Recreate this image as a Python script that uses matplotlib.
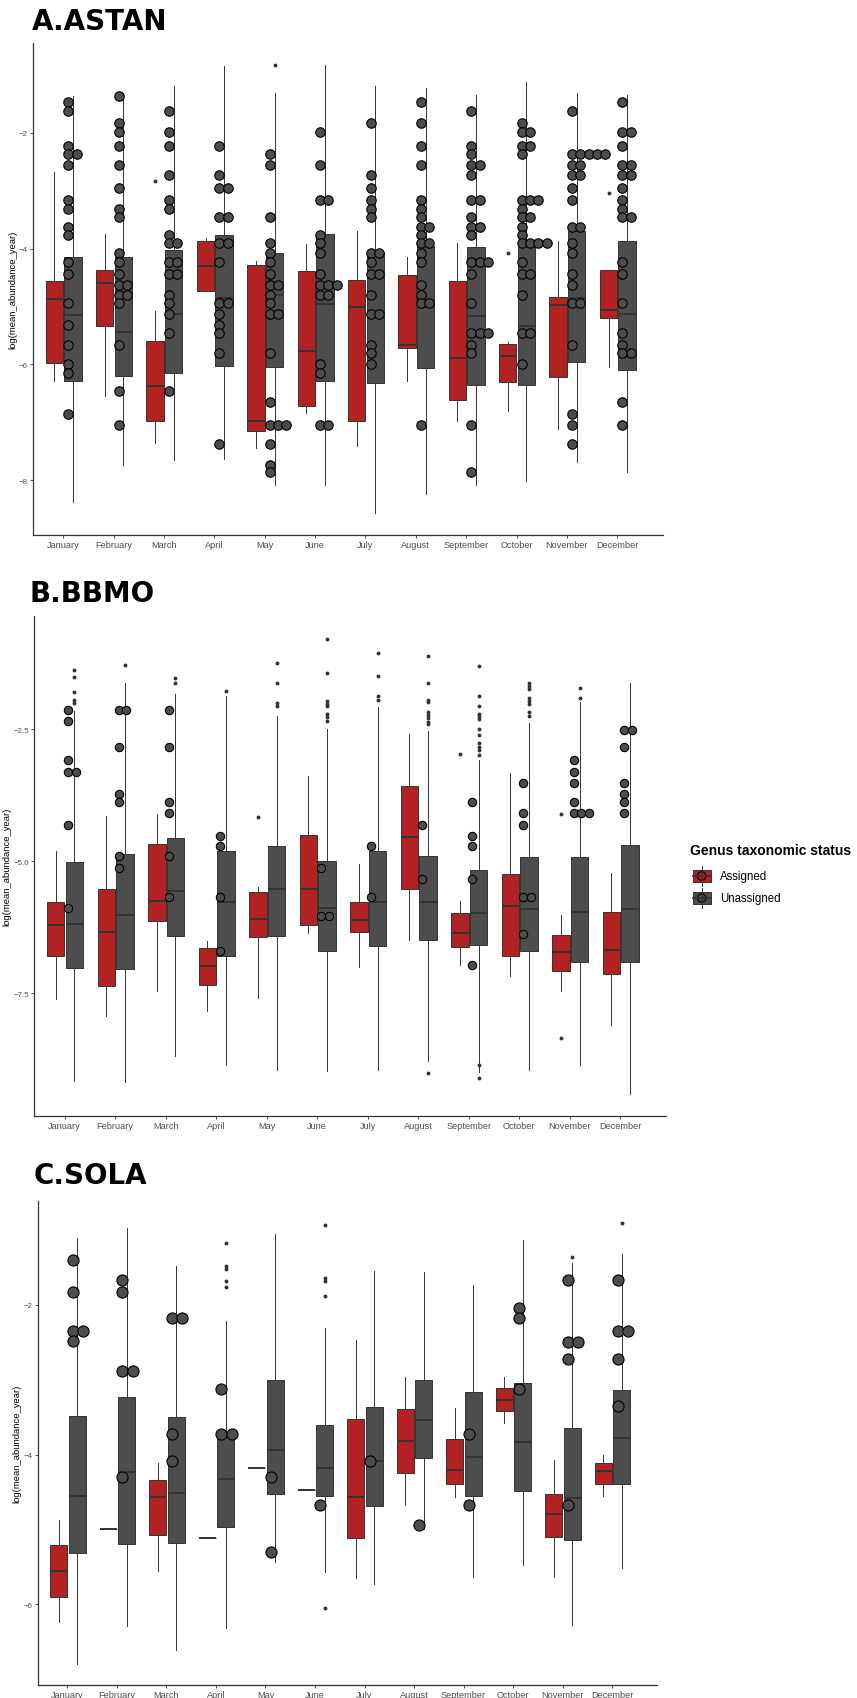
import numpy as np
import matplotlib
matplotlib.use("Agg")
import matplotlib.pyplot as plt
from matplotlib.patches import Rectangle, Circle
from collections import Counter

months = ["January", "February", "March", "April", "May", "June", "July",
          "August", "September", "October", "November", "December"]

RED = "#B22222"
GREY = "#4D4D4D"
LINE = "#333333"

# --- A. ASTAN : (whislo, q1, median, q3, whishi) per month
astan_assigned = [(-6.29, -5.98, -4.87, -4.56, -2.67), (-6.54, -5.33, -4.60, -4.36, -3.75),
                  (-7.35, -6.97, -6.38, -5.59, -5.07), (-4.73, -4.73, -4.30, -3.86, -3.82),
                  (-7.45, -7.15, -6.97, -4.28, -4.21), (-6.83, -6.72, -5.77, -4.38, -3.92),
                  (-7.41, -6.97, -5.01, -4.54, -3.69), (-6.29, -5.71, -5.66, -4.46, -4.15),
                  (-6.97, -6.62, -5.88, -4.56, -3.91), (-6.81, -6.31, -5.85, -5.65, -5.61),
                  (-7.12, -6.22, -4.98, -4.83, -3.87), (-6.05, -5.20, -5.06, -4.36, -4.36)]
astan_unassigned = [(-8.37, -6.28, -5.14, -4.14, -1.36), (-7.74, -6.20, -5.44, -4.14, -1.31),
                    (-7.65, -6.15, -5.12, -4.03, -1.19), (-7.63, -6.02, -4.85, -3.76, -0.85),
                    (-8.08, -6.05, -4.80, -4.08, -1.31), (-8.08, -6.28, -4.95, -3.75, -0.83),
                    (-8.57, -6.32, -5.12, -4.06, -1.19), (-8.24, -6.06, -5.01, -3.95, -1.23),
                    (-8.09, -6.35, -5.17, -3.97, -1.35), (-8.02, -6.36, -5.33, -3.97, -1.12),
                    (-7.69, -5.96, -4.86, -3.70, -1.31), (-7.85, -6.10, -5.12, -3.87, -1.35)]
astan_assigned_out = {3: [-2.83], 10: [-4.07], 12: [-3.04]}
astan_unassigned_out = {5: [-0.83]}
astan_dots = [
    [-1.46, -1.62, -2.22, -2.36, -2.36, -2.56, -3.16, -3.32, -3.62, -3.77, -4.23, -4.43, -4.94, -5.31, -5.67, -5.99, -6.14, -6.85],
    [-1.36, -1.83, -1.98, -2.22, -2.56, -2.96, -3.32, -3.45, -4.08, -4.23, -4.43, -4.62, -4.62, -4.80, -4.80, -4.94, -5.67, -6.45, -7.04],
    [-1.62, -1.98, -2.22, -2.72, -3.16, -3.32, -3.77, -3.91, -3.91, -4.23, -4.23, -4.43, -4.43, -4.80, -4.94, -5.12, -5.46, -6.45],
    [-2.22, -2.72, -2.96, -2.96, -3.45, -3.45, -3.91, -3.91, -4.23, -4.94, -4.94, -5.12, -5.31, -5.46, -5.81, -7.37],
    [-2.36, -2.56, -3.45, -3.91, -4.08, -4.23, -4.43, -4.62, -4.62, -4.80, -4.94, -5.12, -5.12, -5.81, -6.65, -7.04, -7.04, -7.04, -7.37, -7.74, -7.85],
    [-1.99, -2.56, -3.16, -3.16, -3.77, -3.91, -4.08, -4.43, -4.62, -4.62, -4.62, -4.80, -4.80, -5.99, -6.14, -7.04, -7.04],
    [-1.83, -2.72, -2.96, -3.16, -3.32, -3.45, -4.08, -4.08, -4.23, -4.43, -4.43, -4.80, -5.12, -5.12, -5.67, -5.81, -5.99],
    [-1.46, -1.83, -2.22, -2.56, -3.16, -3.32, -3.45, -3.62, -3.62, -3.77, -3.91, -3.91, -4.08, -4.23, -4.62, -4.80, -4.94, -4.94, -7.04],
    [-1.62, -2.22, -2.36, -2.56, -2.56, -2.72, -3.16, -3.16, -3.45, -3.62, -3.62, -3.77, -4.23, -4.23, -4.23, -4.43, -4.94, -5.46, -5.46, -5.46, -5.67, -5.81, -7.04, -7.85],
    [-1.83, -1.99, -1.99, -2.22, -2.22, -2.36, -3.16, -3.16, -3.16, -3.32, -3.45, -3.45, -3.62, -3.77, -3.91, -3.91, -3.91, -3.91, -4.23, -4.43, -4.43, -4.80, -5.46, -5.46, -5.99],
    [-1.62, -2.36, -2.36, -2.36, -2.36, -2.36, -2.56, -2.56, -2.72, -2.72, -2.96, -3.16, -3.62, -3.62, -3.91, -4.08, -4.43, -4.62, -4.94, -4.94, -5.67, -6.85, -7.04, -7.37],
    [-1.46, -1.99, -1.99, -2.22, -2.56, -2.56, -2.72, -2.72, -2.96, -3.16, -3.32, -3.45, -3.45, -4.23, -4.43, -4.94, -5.46, -5.67, -5.81, -5.81, -6.65, -7.04],
]

# --- B. BBMO
bbmo_assigned = [(-7.61, -6.80, -6.22, -5.77, -4.80), (-7.93, -7.36, -6.34, -5.52, -4.14),
                 (-7.46, -6.13, -5.75, -4.68, -4.11), (-7.83, -7.34, -6.99, -6.64, -6.51),
                 (-7.59, -6.43, -6.10, -5.58, -5.49), (-6.36, -6.22, -5.52, -4.50, -3.38),
                 (-7.00, -6.34, -6.11, -5.78, -5.06), (-6.50, -5.53, -4.55, -3.57, -2.59),
                 (-6.96, -6.63, -6.37, -5.99, -5.75), (-7.18, -6.80, -5.85, -5.25, -3.34),
                 (-7.46, -7.09, -6.73, -6.40, -6.03), (-8.10, -7.14, -6.68, -5.97, -5.22)]
bbmo_unassigned = [(-9.17, -7.02, -6.19, -5.01, -2.15), (-9.18, -7.05, -6.02, -4.86, -1.63),
                   (-8.69, -6.41, -5.57, -4.56, -1.84), (-8.86, -6.80, -5.77, -4.80, -1.88),
                   (-8.96, -6.42, -5.53, -4.71, -2.26), (-8.98, -6.70, -5.89, -4.99, -2.49),
                   (-8.96, -6.61, -5.78, -4.80, -2.09), (-8.79, -6.50, -5.78, -4.90, -2.53),
                   (-9.00, -6.59, -5.98, -5.16, -3.09), (-8.95, -6.70, -5.91, -4.93, -2.39),
                   (-8.86, -6.91, -5.97, -4.93, -1.99), (-9.42, -6.92, -5.90, -4.70, -1.63)]
bbmo_assigned_out = {5: [-4.16], 9: [-2.98], 11: [-4.11, -8.35]}
bbmo_unassigned_out = {
    1: [-1.38, -1.52, -1.80, -1.95, -2.00],
    2: [-1.29],
    3: [-1.54, -1.63],
    4: [-1.78],
    5: [-1.24, -1.63, -2.01, -2.06],
    6: [-0.79, -1.43, -1.97, -2.02, -2.07, -2.22, -2.28, -2.34],
    7: [-1.06, -1.50, -1.88, -1.94],
    8: [-1.12, -1.63, -1.94, -1.99, -2.17, -2.24, -2.29, -2.36, -2.41, -9.02],
    9: [-1.31, -1.87, -2.06, -2.21, -2.26, -2.31, -2.50, -2.62, -2.77, -2.83, -2.89, -2.99, -8.86, -9.11],
    10: [-1.63, -1.69, -1.75, -1.92, -1.97, -2.02, -2.17, -2.26],
    11: [-1.73, -1.92],
}
bbmo_dots = [
    [-2.13, -2.34, -3.09, -3.31, -3.31, -4.32, -5.89],
    [-2.13, -2.13, -2.84, -3.73, -3.89, -4.90, -5.14],
    [-2.13, -2.84, -3.89, -4.08, -4.90, -5.68],
    [-4.53, -4.72, -5.68, -6.71],
    [],
    [-5.14, -6.04, -6.04],
    [-4.72, -5.68],
    [-4.32, -5.33],
    [-3.89, -4.53, -4.72, -5.33, -6.97],
    [-3.53, -4.08, -4.32, -5.68, -5.68, -6.39],
    [-3.09, -3.31, -3.53, -3.89, -4.08, -4.08, -4.08],
    [-2.51, -2.51, -2.84, -3.53, -3.73, -3.89, -4.08],
]

# --- C. SOLA
sola_assigned = [(-6.24, -5.90, -5.55, -5.21, -4.87), (-4.99, -4.99, -4.99, -4.99, -4.99),
                 (-5.55, -5.07, -4.57, -4.34, -4.11), (-5.11, -5.11, -5.11, -5.11, -5.11),
                 (-4.18, -4.18, -4.18, -4.18, -4.18), (-4.48, -4.48, -4.48, -4.48, -4.48),
                 (-5.65, -5.11, -4.57, -3.53, -2.47), (-4.68, -4.25, -3.82, -3.39, -2.97),
                 (-4.57, -4.39, -4.20, -3.79, -3.38), (-3.58, -3.42, -3.27, -3.11, -2.96),
                 (-5.64, -5.10, -4.79, -4.53, -4.07), (-4.56, -4.39, -4.22, -4.11, -4.00)]
sola_unassigned = [(-6.79, -5.32, -4.56, -3.49, -1.11), (-6.29, -5.19, -4.23, -3.23, -0.98),
                   (-6.61, -5.18, -4.51, -3.50, -1.48), (-6.31, -4.97, -4.33, -3.77, -2.22),
                   (-5.43, -4.53, -3.94, -3.00, -1.06), (-5.57, -4.56, -4.18, -3.60, -2.31),
                   (-5.73, -4.69, -4.09, -3.36, -1.55), (-5.00, -4.05, -3.54, -3.01, -1.57),
                   (-5.63, -4.55, -4.03, -3.17, -1.74), (-5.48, -4.49, -3.83, -3.05, -1.14),
                   (-6.27, -5.14, -4.58, -3.64, -1.44), (-5.52, -4.40, -3.78, -3.14, -1.32)]
sola_assigned_out = {}
sola_unassigned_out = {4: [-1.18, -1.48, -1.52, -1.69, -1.76],
                       6: [-0.93, -1.64, -1.68, -1.89, -6.05],
                       11: [-1.37], 12: [-0.91]}
sola_dots = [
    [-1.41, -1.83, -2.35, -2.35, -2.49],
    [-1.67, -1.83, -2.89, -2.89, -4.30],
    [-2.18, -2.18, -3.73, -4.09],
    [-3.12, -3.73, -3.73],
    [-4.30, -5.30],
    [-4.68],
    [-4.09],
    [-4.94],
    [-3.73, -4.68],
    [-2.05, -2.18, -3.12],
    [-1.67, -2.50, -2.50, -2.73, -4.68],
    [-1.67, -2.35, -2.35, -2.73, -3.35],
]

W, H = 857, 1699
fig = plt.figure(figsize=(W / 100, H / 100), dpi=100)


def px_axes(left, right, top, bottom):
    return fig.add_axes([left / W, 1 - bottom / H, (right - left) / W, (bottom - top) / H])


def box_stats(rows, fliers):
    return [dict(whislo=lo, q1=q1, med=med, q3=q3, whishi=hi, fliers=fliers.get(i + 1, []))
            for i, (lo, q1, med, q3, hi) in enumerate(rows)]


def draw_panel(ax, assigned, unassigned, a_out, u_out, dots, dot_geom, ylim, yticks, ylab_x):
    pos = np.arange(1, 13)
    for stats, off, col in ((box_stats(assigned, a_out), -0.175, RED),
                            (box_stats(unassigned, u_out), 0.195, GREY)):
        ax.bxp(stats, positions=pos + off, widths=0.345, patch_artist=True, showcaps=False,
               manage_ticks=False,
               boxprops=dict(facecolor=col, edgecolor=LINE, linewidth=0.7),
               medianprops=dict(color=LINE, linewidth=1.4),
               whiskerprops=dict(color=LINE, linewidth=0.7),
               flierprops=dict(marker="o", markersize=2.8, markerfacecolor=LINE,
                               markeredgecolor="none"))
    start, step, size = dot_geom
    xs, ys = [], []
    for m, vals in enumerate(dots, start=1):
        for v, n in Counter(vals).items():
            for k in range(n):
                xs.append(m + start + k * step)
                ys.append(v)
    ax.scatter(xs, ys, s=size ** 2, facecolor=GREY, edgecolor="black", linewidths=0.8, zorder=3)

    ax.set_xlim(0.4, 12.9)
    ax.set_ylim(*ylim)
    ax.set_xticks(pos)
    ax.set_xticklabels(months, fontsize=6.6, color=GREY, family="Liberation Sans")
    ax.set_yticks(yticks)
    ax.set_yticklabels([f"{t:.1f}".replace("-", "\u2212") if t % 1 else f"{t:g}".replace("-", "\u2212")
                        for t in yticks],
                       fontsize=5.7, color=GREY, family="Liberation Sans")
    ax.tick_params(length=2.2, width=0.6, color=LINE, pad=1.5)
    for s in ("top", "right"):
        ax.spines[s].set_visible(False)
    for s in ("left", "bottom"):
        ax.spines[s].set_color(LINE)
        ax.spines[s].set_linewidth(0.9)
    ax.text(ylab_x, 0.5, "log(mean_abundance_year)", transform=ax.transAxes, rotation=90,
            ha="center", va="center", fontsize=6.8, family="Liberation Sans")


axA = px_axes(33, 662.7, 43.6, 535.7)
draw_panel(axA, astan_assigned, astan_unassigned, astan_assigned_out, astan_unassigned_out,
           astan_dots, (0.10, 0.165, 6.8), (-8.94, -0.44), [-2, -4, -6, -8], -0.0313)

axB = px_axes(34.3, 665.7, 617.1, 1117.1)
draw_panel(axB, bbmo_assigned, bbmo_unassigned, bbmo_assigned_out, bbmo_unassigned_out,
           bbmo_dots, (0.075, 0.15, 6.0), (-9.83, -0.36), [-2.5, -5.0, -7.5], -0.043)
axB.set_yticklabels(["\u22122.5", "\u22125.0", "\u22127.5"], fontsize=5.7, color=GREY,
                    family="Liberation Sans")

axC = px_axes(37.7, 656.7, 1201.9, 1686.3)
draw_panel(axC, sola_assigned, sola_unassigned, sola_assigned_out, sola_unassigned_out,
           sola_dots, (0.11, 0.21, 8.0), (-7.08, -0.615), [-2, -4, -6], -0.033)

# panel titles
for x, y, t in ((31.7, 30.4, "A.ASTAN"), (29.3, 602.1, "B.BBMO"), (33.3, 1184.4, "C.SOLA")):
    fig.text(x / W, 1 - y / H, t, fontsize=20, fontweight="bold", family="DejaVu Sans",
             va="baseline", ha="left")

# legend drawn in pixel space
lax = fig.add_axes([0, 0, 1, 1])
lax.set_xlim(0, W)
lax.set_ylim(H, 0)
lax.axis("off")
lax.text(690, 851, "Genus taxonomic status", fontsize=10, fontweight="bold",
         family="Liberation Sans", va="center", ha="left")
for cy, col, lab in ((877, RED, "Assigned"), (899, GREY, "Unassigned")):
    lax.plot([701.7, 701.7], [cy - 10, cy + 10], color=LINE, lw=0.7)
    lax.add_patch(Rectangle((692.7, cy - 6.3), 18, 12.6, facecolor=col, edgecolor=LINE, lw=0.7))
    lax.plot([692.7, 710.7], [cy, cy], color=LINE, lw=1.2)
    lax.add_patch(Circle((701.7, cy), 4.2, facecolor=col, edgecolor="black", lw=0.8))
    lax.text(720, cy, lab, fontsize=8.3, family="Liberation Sans", va="center", ha="left")

fig.savefig("out.png", dpi=100)
